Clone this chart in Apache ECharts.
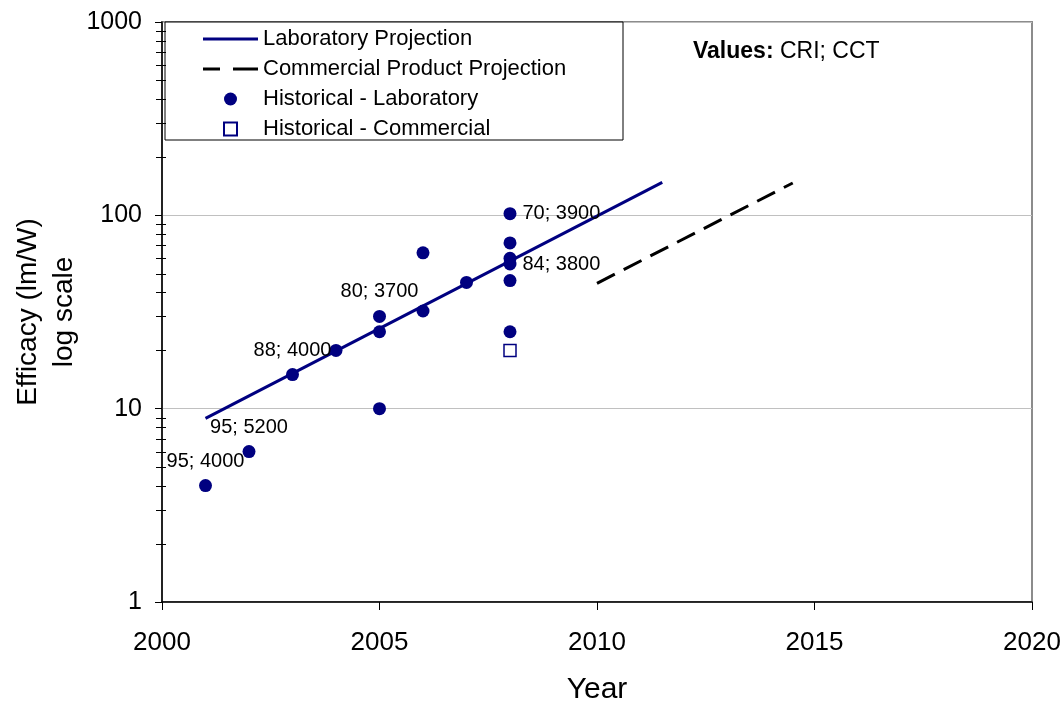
<!DOCTYPE html>
<html>
<head>
<meta charset="utf-8">
<title>LED efficacy trends</title>
<script src="https://cdn.jsdelivr.net/npm/echarts@6/dist/echarts.min.js"></script>
<style>
  html, body { margin: 0; padding: 0; background: #fff; }
  #chart { width: 1064px; height: 702px; }
</style>
</head>
<body>
<div id="chart"></div>
<script>
// Historical laboratory results (year, efficacy in lm/W)
const labYears    = [2001, 2002, 2003, 2004, 2005, 2005, 2005, 2006, 2006, 2007, 2008, 2008, 2008, 2008, 2008, 2008];
const labEfficacy = [4,    6,    15,   20,   30,   25,   10,   64,   32,   45,   102,  72,   60,   56,   46,   25];
// CRI; CCT notes attached to some laboratory results ('' = no note)
const labNotes    = ['95; 4000', '95; 5200', '88; 4000', '', '80; 3700', '', '', '', '', '', '70; 3900', '', '', '84; 3800', '', ''];

// Historical commercial product
const commYears    = [2008];
const commEfficacy = [20];

// Projections
const labProjYears     = [2001, 2011.5];
const labProjEfficacy  = [8.9, 148];
const commProjYears    = [2010, 2014.5];
const commProjEfficacy = [44.5, 147];

// Axis ticks
const yearTicks = [2000, 2005, 2010, 2015, 2020];
const minorEfficacyTicks = [2, 3, 4, 5, 6, 7, 8, 9, 20, 30, 40, 50, 60, 70, 80, 90, 200, 300, 400, 500, 600, 700, 800, 900];

const seriesNames = ['Laboratory Projection', 'Commercial Product Projection', 'Historical - Laboratory', 'Historical - Commercial'];

const NAVY = '#000080';
const FONT = 'Liberation Sans, Arial, sans-serif';

// legend glyphs: solid bar, two dashes, dot, open square
const ICON_SOLID  = 'path://M0,0L55,0L55,3L0,3Z';
const ICON_DASHED = 'path://M0,0L17,0L17,3L0,3Z M30,0L55,0L55,3L30,3Z';
const ICON_SQUARE = 'path://M0,0L12,0L12,12L0,12Z';

// where each note sits relative to its dot
const notePlacement = {
  right: { position: 'right', distance: 6 },
  top:   { position: 'top', distance: 8 }
};
function placementFor(i) {
  return labYears[i] === 2008 ? notePlacement.right : notePlacement.top;
}

const labData = labYears.map((y, i) => {
  const item = { value: [y, labEfficacy[i]] };
  if (labNotes[i]) {
    item.label = Object.assign({ show: true, formatter: labNotes[i] }, placementFor(i));
  }
  return item;
});

const chart = echarts.init(document.getElementById('chart'), null, { renderer: 'canvas' });

chart.setOption({
  animation: false,
  backgroundColor: '#fff',
  textStyle: { fontFamily: FONT },
  grid: {
    left: 162, right: 32, top: 22, bottom: 100,
    containLabel: false,
    outerBoundsMode: 'none',
    show: true, borderColor: '#8c8c8c', borderWidth: 2, backgroundColor: 'transparent'
  },
  xAxis: {
    type: 'value',
    min: 2000, max: 2020, interval: 5,
    name: 'Year',
    nameLocation: 'middle',
    nameGap: 73,
    nameMoveOverlap: false,
    nameTextStyle: { fontSize: 30, color: '#000', fontFamily: FONT },
    axisLine: { show: true, onZero: false, lineStyle: { color: '#000', width: 1.5 } },
    axisTick: { show: true, length: 8, lineStyle: { color: '#000' } },
    axisLabel: {
      fontSize: 26, color: '#000', margin: 28, fontFamily: FONT,
      formatter: v => (yearTicks.indexOf(v) >= 0 ? String(v) : '')
    },
    splitLine: { show: false }
  },
  yAxis: {
    type: 'log',
    logBase: 10,
    min: 1, max: 1000,
    name: 'Efficacy (lm/W)\nlog scale',
    nameLocation: 'middle',
    nameRotate: 90,
    nameGap: 80,
    nameMoveOverlap: false,
    nameTextStyle: { fontSize: 28, lineHeight: 36, color: '#000', fontFamily: FONT, align: 'center' },
    axisLine: { show: true, onZero: false, lineStyle: { color: '#000', width: 1.5 } },
    axisTick: { show: true, length: 7, lineStyle: { color: '#000' } },
    axisLabel: { fontSize: 25, color: '#000', margin: 20, fontFamily: FONT, formatter: v => String(Math.round(v)) },
    splitLine: { show: true, lineStyle: { color: '#c0c0c0', width: 1 } }
  },
  legend: {
    orient: 'vertical',
    left: 203, top: 28,
    padding: 0,
    itemWidth: 55, itemHeight: 13,
    itemGap: 8,
    textStyle: { fontSize: 22, color: '#000', fontFamily: FONT },
    data: [
      { name: seriesNames[0], icon: ICON_SOLID },
      { name: seriesNames[1], icon: ICON_DASHED },
      { name: seriesNames[2], icon: 'circle' },
      { name: seriesNames[3], icon: ICON_SQUARE }
    ],
    z: 10
  },
  graphic: [
    {
      type: 'rect', z: 5,
      shape: { x: 165, y: 22, width: 458, height: 118 },
      style: { fill: '#fff', stroke: '#000', lineWidth: 1 }
    },
    {
      type: 'text', z: 5, left: 693, top: 40,
      style: {
        text: '{b|Values:} CRI; CCT',
        font: '23px ' + FONT,
        fill: '#000',
        rich: { b: { fontWeight: 'bold', fontSize: 23, fontFamily: FONT } }
      }
    }
  ],
  series: [
    {
      name: seriesNames[0],
      type: 'line',
      data: labProjYears.map((y, i) => [y, labProjEfficacy[i]]),
      symbol: 'none',
      lineStyle: { color: NAVY, width: 3 },
      itemStyle: { color: NAVY },
      z: 3
    },
    {
      name: seriesNames[1],
      type: 'line',
      data: commProjYears.map((y, i) => [y, commProjEfficacy[i]]),
      symbol: 'none',
      lineStyle: { color: '#000', width: 3, type: [20, 10] },
      itemStyle: { color: '#000' },
      z: 3
    },
    {
      name: seriesNames[2],
      type: 'scatter',
      data: labData,
      symbol: 'circle',
      symbolSize: 13,
      itemStyle: { color: NAVY, opacity: 1 },
      label: { show: false, fontSize: 20, color: '#000', fontFamily: FONT },
      labelLayout: { hideOverlap: false },
      z: 4
    },
    {
      name: seriesNames[3],
      type: 'scatter',
      data: commYears.map((y, i) => [y, commEfficacy[i]]),
      symbol: 'rect',
      symbolSize: 12,
      itemStyle: { color: '#fff', borderColor: NAVY, borderWidth: 1.5, opacity: 1 },
      z: 4
    },
    {
      // minor tick marks on the logarithmic axis, crossing the axis line
      name: 'minor ticks',
      type: 'custom',
      silent: true,
      clip: false,
      data: minorEfficacyTicks.map(v => [yearTicks[0], v]),
      encode: { x: 0, y: 1 },
      renderItem: function (params, api) {
        const p = api.coord([api.value(0), api.value(1)]);
        const yPix = Math.round(p[1]) + 0.5;
        return {
          type: 'line',
          shape: { x1: p[0] - 6, y1: yPix, x2: p[0] + 4, y2: yPix },
          style: { stroke: '#000', lineWidth: 1 }
        };
      },
      z: 6
    }
  ]
});
</script>
</body>
</html>
